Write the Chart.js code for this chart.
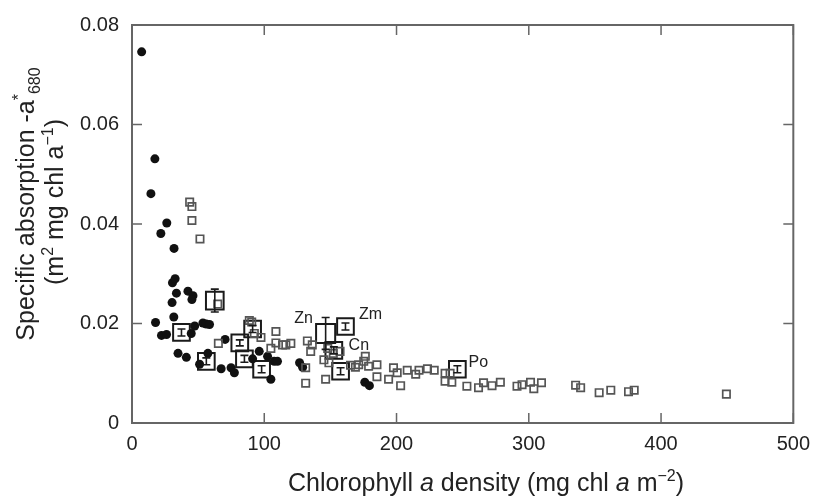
<!DOCTYPE html>
<html>
<head>
<meta charset="utf-8">
<script src="https://cdn.jsdelivr.net/npm/chart.js@4"></script>
<style>
  html, body { margin: 0; padding: 0; background: #fff; }
  canvas { display: block; }
</style>
</head>
<body>
<canvas id="absChart" width="819" height="501"></canvas>
<script>
var FONT = "'Liberation Sans', Arial, Helvetica, sans-serif";
var frameColor = '#666';
var inkColor = '#1a1a1a';
var squareColor = '#555';

// field samples (filled circles)
var dotX = [7.3, 14.3, 17.3, 21.8, 26.3, 31.8, 30.6, 32.6, 33.6, 42.3, 46.1, 45.3, 30.3, 31.6,
    17.8, 22.3, 26.1, 44.8, 47.4, 53.6, 56.1, 58.6, 34.8, 41.1, 57.4, 51.1, 67.4, 70.4, 74.9,
    77.4, 91.2, 96.2, 102.5, 107.5, 110.0, 105.0, 126.7, 129.0, 176.0, 179.5];
var dotY = [0.0746, 0.0461, 0.0531, 0.0381, 0.0402, 0.0351, 0.0282, 0.0290, 0.0261, 0.0265, 0.0256, 0.0248, 0.0242, 0.0213,
    0.0202, 0.0176, 0.0178, 0.0180, 0.0195, 0.0201, 0.0199, 0.0198, 0.0140, 0.0132, 0.0140, 0.0118, 0.0109, 0.0168, 0.0111,
    0.0101, 0.0129, 0.0144, 0.0134, 0.0124, 0.0124, 0.0088, 0.0121, 0.0112, 0.0082, 0.0075];

// leaf samples (open grey squares)
var sqX = [43.6, 45.3, 45.3, 51.4, 64.8, 65.3, 88.7, 90.5, 92.5, 97.5, 108.8, 105.0, 108.8, 113.8,
    116.3, 120.1, 132.6, 136.3, 135.1, 131.3, 131.3, 145.1, 148.9, 146.4, 148.0, 152.2, 157.3,
    165.2, 168.9, 171.4, 175.2, 176.4, 178.9, 185.2, 185.2, 194.0, 197.7, 200.5, 203.1, 208.1,
    214.5, 217.0, 223.4, 228.5, 236.7, 240.5, 236.7, 241.8, 253.2, 262.0, 265.8, 272.2, 278.5,
    291.1, 294.9, 301.3, 303.8, 309.6, 335.4, 339.2, 353.2, 362.0, 375.4, 379.7, 449.4];
var sqY = [0.0444, 0.0435, 0.0407, 0.0370, 0.0239, 0.0160, 0.0206, 0.0203, 0.0180, 0.0172, 0.0184, 0.0150, 0.0161, 0.0157,
    0.0157, 0.0160, 0.0165, 0.0157, 0.0144, 0.0111, 0.0080, 0.0127, 0.0121, 0.0088, 0.0150, 0.0140, 0.0144,
    0.0116, 0.0112, 0.0117, 0.0124, 0.0134, 0.0114, 0.0117, 0.0093, 0.0088, 0.0111, 0.0101, 0.0075, 0.0106,
    0.0098, 0.0106, 0.0109, 0.0106, 0.0100, 0.0100, 0.0084, 0.0082, 0.0074, 0.0071, 0.0081, 0.0075, 0.0082,
    0.0074, 0.0077, 0.0082, 0.0069, 0.0081, 0.0076, 0.0071, 0.0061, 0.0066, 0.0063, 0.0066, 0.0058];

// species means with standard error
var meanX = [37.4, 62.6, 56.2, 81.5, 85.0, 91.2, 98.0, 146.4, 161.4, 152.6, 157.7, 246.0];
var meanY = [0.0182, 0.0246, 0.0124, 0.0161, 0.0129, 0.0189, 0.0108, 0.0180, 0.0194, 0.0146, 0.0104, 0.0108];
var meanErr = [0.0007, 0.0023, 0.0007, 0.0006, 0.0007, 0.0007, 0.0007, 0.0032, 0.0007, 0.0007, 0.0007, 0.0007];
var meanNames = ['', '', '', '', '', '', '', 'Zn', 'Zm', 'Cn', '', 'Po'];

var xTicks = [0, 100, 200, 300, 400, 500];
var yTicks = [0, 0.02, 0.04, 0.06, 0.08];

function pairs(xs, ys) {
    return xs.map(function (x, i) { return { x: x, y: ys[i] }; });
}

// label offsets (px) for the named means
var nameOffset = { Zn: [-22, -15], Zm: [25, -12], Cn: [25, -5], Po: [21, -7] };

function fontOf(style, size) {
    var s = (style === 'sup' || style === 'sub') ? Math.round(size * 0.62) : size;
    return (style === 'i' ? 'italic ' : '') + s + 'px ' + FONT;
}

// draws a run of text pieces with italics / super- / subscripts, centred on x
function drawRich(ctx, parts, x, y, size) {
    var total = 0;
    parts.forEach(function (p) {
        ctx.font = fontOf(p[1], size);
        total += ctx.measureText(p[0]).width;
    });
    var cx = x - total / 2;
    ctx.textAlign = 'left';
    ctx.textBaseline = 'alphabetic';
    parts.forEach(function (p) {
        ctx.font = fontOf(p[1], size);
        var dy = p[1] === 'sup' ? -size * 0.42 : (p[1] === 'sub' ? size * 0.22 : 0);
        ctx.fillText(p[0], cx, y + dy);
        cx += ctx.measureText(p[0]).width;
    });
}

var framePlugin = {
    id: 'frame',
    beforeDatasetsDraw: function (chart) {
        var ctx = chart.ctx, a = chart.chartArea;
        var xs = chart.scales.x, ys = chart.scales.y;
        ctx.save();
        ctx.strokeStyle = frameColor;
        ctx.lineWidth = 2;
        ctx.strokeRect(a.left, a.top, a.right - a.left, a.bottom - a.top);
        ctx.lineWidth = 1.5;
        ctx.beginPath();
        xTicks.forEach(function (v) {
            var px = xs.getPixelForValue(v);
            ctx.moveTo(px, a.bottom); ctx.lineTo(px, a.bottom - 10);
            ctx.moveTo(px, a.top); ctx.lineTo(px, a.top + 10);
        });
        yTicks.forEach(function (v) {
            var py = ys.getPixelForValue(v);
            ctx.moveTo(a.left, py); ctx.lineTo(a.left + 10, py);
            ctx.moveTo(a.right, py); ctx.lineTo(a.right - 10, py);
        });
        ctx.stroke();
        ctx.restore();
    },
    afterDatasetsDraw: function (chart) {
        var ctx = chart.ctx;
        var xs = chart.scales.x, ys = chart.scales.y;
        ctx.save();
        // error bars on the species means
        ctx.strokeStyle = inkColor;
        ctx.lineWidth = 1.6;
        ctx.beginPath();
        meanX.forEach(function (x, i) {
            var px = xs.getPixelForValue(x);
            var top = ys.getPixelForValue(meanY[i] + meanErr[i]);
            var bot = ys.getPixelForValue(meanY[i] - meanErr[i]);
            ctx.moveTo(px, top); ctx.lineTo(px, bot);
            ctx.moveTo(px - 4, top); ctx.lineTo(px + 4, top);
            ctx.moveTo(px - 4, bot); ctx.lineTo(px + 4, bot);
        });
        ctx.stroke();
        // species names
        ctx.fillStyle = '#222';
        ctx.font = '16px ' + FONT;
        ctx.textAlign = 'center';
        ctx.textBaseline = 'middle';
        meanNames.forEach(function (n, i) {
            if (!n) return;
            var off = nameOffset[n];
            ctx.fillText(n, xs.getPixelForValue(meanX[i]) + off[0], ys.getPixelForValue(meanY[i]) + off[1]);
        });
        ctx.restore();
    },
    afterDraw: function (chart) {
        var ctx = chart.ctx;
        ctx.save();
        ctx.fillStyle = '#222';
        drawRich(ctx, [['Chlorophyll ', 'n'], ['a', 'i'], [' density (mg chl ', 'n'], ['a', 'i'],
            [' m', 'n'], ['\u22122', 'sup'], [')', 'n']], 486, 491, 25);
        ctx.rotate(-Math.PI / 2);
        drawRich(ctx, [['Specific absorption -a', 'n'], ['*', 'sup'], ['680', 'sub']], -204, 34, 25);
        drawRich(ctx, [['(m', 'n'], ['2', 'sup'], [' mg chl a', 'n'], ['\u22121', 'sup'], [')', 'n']], -202, 63, 25);
        ctx.restore();
    }
};

var ctx = document.getElementById('absChart').getContext('2d');

new Chart(ctx, {
    type: 'scatter',
    data: {
        datasets: [{
            label: 'leaf',
            data: pairs(sqX, sqY),
            pointStyle: 'rect',
            pointRadius: 5.2,
            borderColor: squareColor,
            borderWidth: 1.7,
            backgroundColor: 'rgba(0,0,0,0)'
        }, {
            label: 'field',
            data: pairs(dotX, dotY),
            pointStyle: 'circle',
            pointRadius: 4.5,
            borderWidth: 0,
            backgroundColor: '#111'
        }, {
            label: 'mean',
            data: pairs(meanX, meanY),
            pointStyle: 'rect',
            pointRadius: [11.8, 12.5, 11.8, 11.8, 11.8, 11.8, 11.8, 13.5, 11.8, 11.8, 11.8, 11.8],
            borderColor: inkColor,
            borderWidth: 2,
            backgroundColor: 'rgba(0,0,0,0)'
        }]
    },
    options: {
        responsive: false,
        animation: false,
        devicePixelRatio: 1,
        layout: { padding: { top: 16, right: 22, left: 0, bottom: 0 } },
        plugins: {
            legend: { display: false },
            tooltip: { enabled: false }
        },
        scales: {
            x: {
                type: 'linear',
                min: 0,
                max: 500,
                afterBuildTicks: function (s) { s.ticks = xTicks.map(function (v) { return { value: v }; }); },
                afterFit: function (s) { s.height = 78; },
                grid: { display: false, drawTicks: false },
                border: { display: false },
                ticks: {
                    padding: 9,
                    color: '#222',
                    font: { family: FONT, size: 20 }
                }
            },
            y: {
                type: 'linear',
                min: 0,
                max: 0.08,
                afterBuildTicks: function (s) { s.ticks = yTicks.map(function (v) { return { value: v }; }); },
                afterFit: function (s) { s.width = 132; },
                grid: { display: false, drawTicks: false },
                border: { display: false },
                ticks: {
                    padding: 13,
                    color: '#222',
                    font: { family: FONT, size: 20 },
                    callback: function (v) { return v === 0 ? '0' : v.toFixed(2); }
                }
            }
        }
    },
    plugins: [framePlugin]
});
</script>
</body>
</html>
